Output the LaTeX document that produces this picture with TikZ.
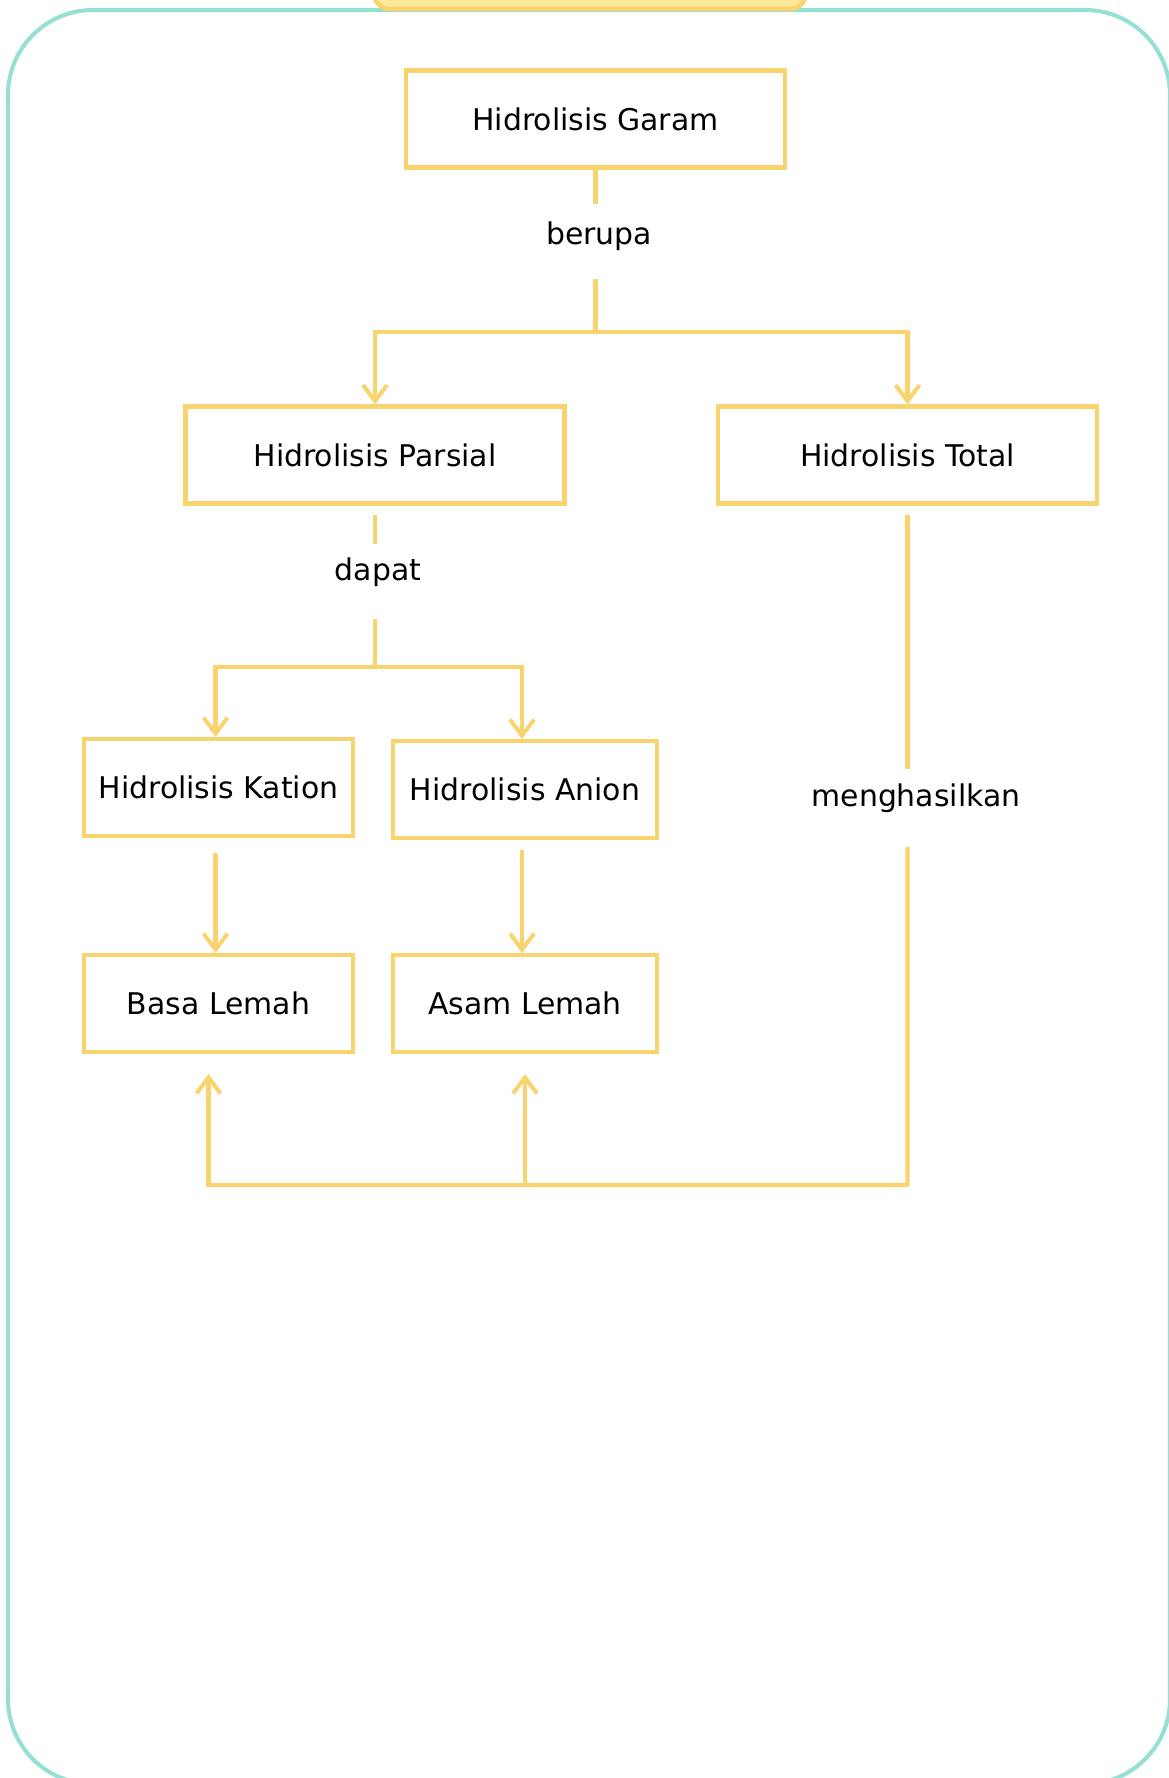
\documentclass[tikz,border=0pt]{standalone}
\usepackage{fontspec}
\setmainfont{DejaVu Sans}
\usetikzlibrary{arrows.meta,calc}
\definecolor{kuning}{HTML}{F9D36E}
\definecolor{kuningmuda}{HTML}{FBE89B}
\definecolor{tosca}{HTML}{95DFD3}

\begin{document}
\begin{tikzpicture}[>={Straight Barb[length=0.16cm,width=0.24cm]}, line width=1.15pt,
    kotak/.style={draw=kuning, minimum width=3.79cm, minimum height=0.97cm, inner sep=0pt, font=\fontsize{8.5}{10}\selectfont},
    teks/.style={inner sep=0pt, font=\fontsize{8.5}{10}\selectfont},
    garis/.style={draw=kuning}]
    % ukuran gambar
    \useasboundingbox (0,0) rectangle (11.68,-17.78);

    % bingkai luar dan tab di atas
    \draw[tosca, rounded corners=0.85cm] (0.08,-0.10) rectangle (11.70,-17.84);
    \draw[kuning, fill=kuningmuda, line width=1.3pt, rounded corners=0.16cm] (3.74,-0.09) rectangle (8.06,0.5);

    % kotak-kotak konsep
    \node[kotak] (garam) at (5.955,-1.19) {Hidrolisis Garam};
    \node[kotak] (parsial) at (3.75,-4.55) {Hidrolisis Parsial};
    \node[kotak] (total) at (9.075,-4.55) {Hidrolisis Total};
    \node[kotak, minimum width=2.69cm] (kation) at (2.185,-7.875) {Hidrolisis Kation};
    \node[kotak, minimum width=2.64cm] (anion) at (5.25,-7.895) {Hidrolisis Anion};
    \node[kotak, minimum width=2.69cm] (basa) at (2.185,-10.035) {Basa Lemah};
    \node[kotak, minimum width=2.64cm] (asam) at (5.25,-10.035) {Asam Lemah};

    % kata penghubung
    \node[teks] (berupa) at (5.99,-2.36) {berupa};
    \node[teks] (dapat) at (3.78,-5.72) {dapat};
    \node[teks] (hasil) at (9.16,-7.98) {menghasilkan};

    % titik bantu pada garis
    \coordinate (b1) at ($(garam.center)+(0,-0.85)$);
    \coordinate (b2) at ($(garam.center)+(0,-1.60)$);
    \coordinate (b3) at ($(garam.center)+(0,-2.13)$);
    \coordinate (d1) at ($(parsial.center)+(0,-0.89)$);
    \coordinate (d2) at ($(parsial.center)+(0,-1.64)$);
    \coordinate (d3) at ($(parsial.center)+(0,-2.12)$);
    \coordinate (h1) at ($(total.center)+(0,-3.14)$);
    \coordinate (h2) at ($(total.center)+(0,-3.92)$);
    \coordinate (h3) at ($(total.center)+(0,-7.30)$);
    \coordinate (h4) at ($(asam.center)+(0,-1.815)$);

    % Hidrolisis Garam berupa ...
    \draw[garis] (garam.south) -- (b1);
    \draw[garis] (b2) -- (b3);
    \draw[garis, ->] (b3) -| (parsial.north);
    \draw[garis, ->] (b3) -| (total.north);

    % Hidrolisis Parsial dapat ...
    \draw[garis] ([yshift=-0.09cm]parsial.south) -- (d1);
    \draw[garis] (d2) -- (d3);
    \draw[garis, ->] (d3) -| ([xshift=-0.03cm]kation.north);
    \draw[garis, ->] (d3) -| ([xshift=-0.03cm]anion.north);
    \draw[garis, ->] ([xshift=-0.03cm, yshift=-0.15cm]kation.south) -- ([xshift=-0.03cm]basa.north);
    \draw[garis, ->] ([xshift=-0.03cm, yshift=-0.10cm]anion.south) -- ([xshift=-0.03cm]asam.north);

    % Hidrolisis Total menghasilkan ...
    \draw[garis] ([yshift=-0.09cm]total.south) -- (h1);
    \draw[garis, line join=round] (h2) -- (h3) -- (h4);
    \draw[garis, ->] (h4) -- ([yshift=-0.20cm]asam.south);
    \draw[garis, ->] (h4) -| ([xshift=-0.10cm, yshift=-0.20cm]basa.south);
\end{tikzpicture}
\end{document}
